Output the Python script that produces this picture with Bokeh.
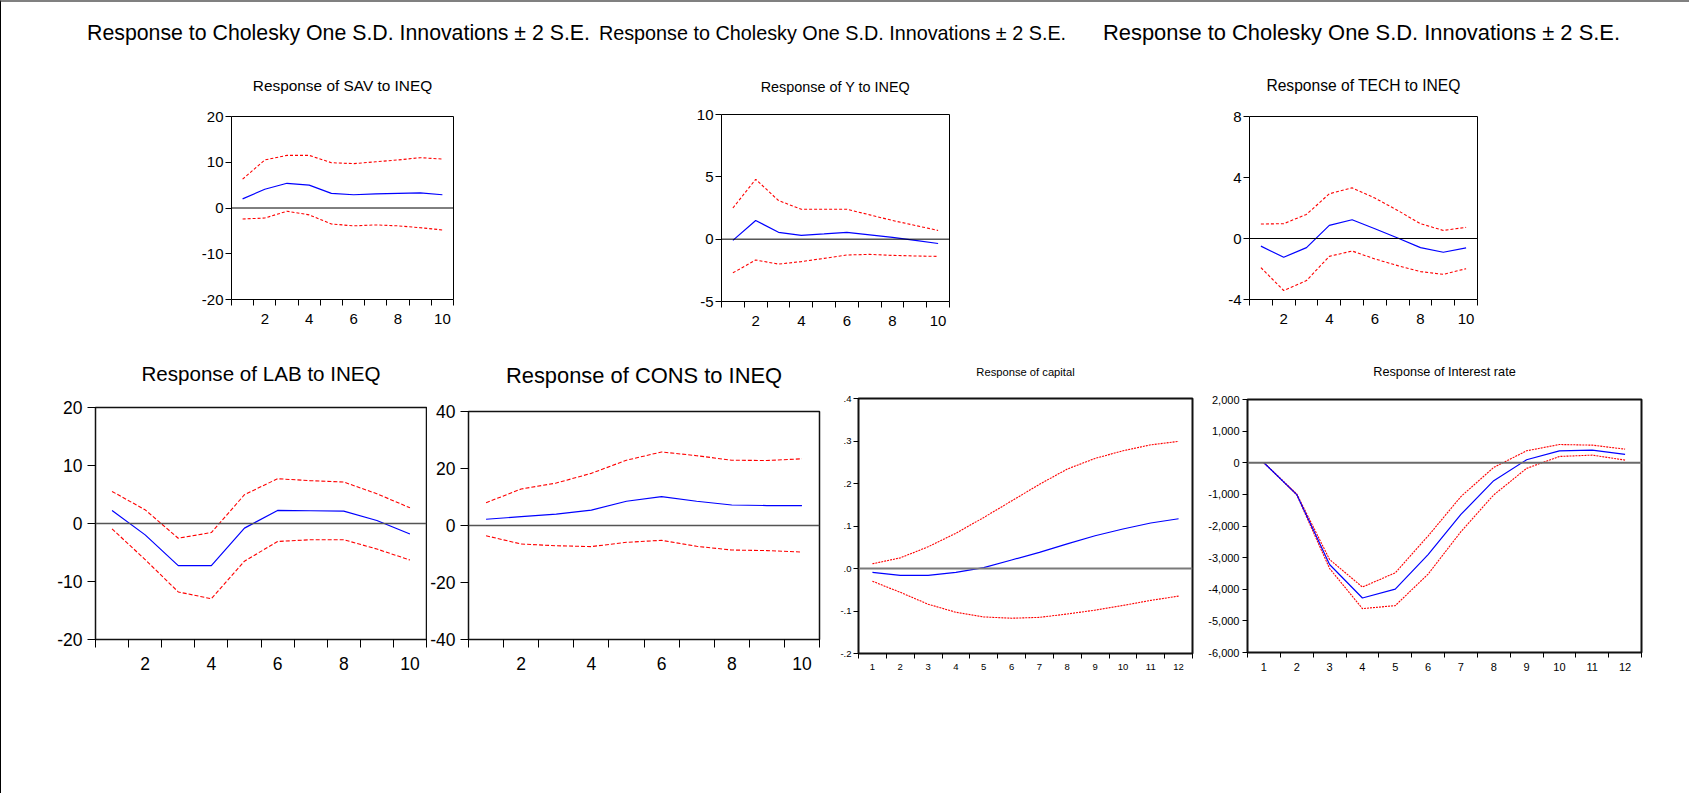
from bokeh.plotting import figure
from bokeh.layouts import column, row
from bokeh.models import FixedTicker, Span, Range1d, Label
from bokeh.embed import file_html
from bokeh.resources import INLINE

# ---------------- data ----------------
main_title = "Response to Cholesky One S.D. Innovations \u00b1 2 S.E."

periods10 = [1, 2, 3, 4, 5, 6, 7, 8, 9, 10]
periods12 = [1, 2, 3, 4, 5, 6, 7, 8, 9, 10, 11, 12]

sav_resp = [2.0, 4.1, 5.4, 5.0, 3.2, 2.9, 3.1, 3.2, 3.3, 2.9]
sav_upper = [6.3, 10.5, 11.5, 11.5, 9.9, 9.7, 10.1, 10.5, 11.0, 10.7]
sav_lower = [-2.4, -2.2, -0.7, -1.5, -3.5, -3.9, -3.7, -3.9, -4.3, -4.8]

y_resp = [-0.1, 1.5, 0.55, 0.3, 0.42, 0.55, 0.35, 0.15, -0.1, -0.35]
y_upper = [2.5, 4.8, 3.1, 2.4, 2.4, 2.4, 1.95, 1.5, 1.1, 0.7]
y_lower = [-2.7, -1.67, -2.0, -1.8, -1.54, -1.27, -1.22, -1.3, -1.35, -1.38]

tech_resp = [-0.5, -1.23, -0.6, 0.86, 1.23, 0.64, 0.03, -0.6, -0.9, -0.62]
tech_upper = [0.95, 0.97, 1.58, 2.93, 3.32, 2.65, 1.84, 0.97, 0.53, 0.73]
tech_lower = [-1.91, -3.41, -2.76, -1.17, -0.82, -1.34, -1.78, -2.17, -2.35, -1.98]

lab_resp = [2.25, -1.96, -7.26, -7.26, -0.8, 2.25, 2.2, 2.13, 0.52, -1.8]
lab_upper = [5.53, 2.36, -2.54, -1.56, 4.96, 7.72, 7.38, 7.15, 5.13, 2.71]
lab_lower = [-0.92, -6.22, -11.8, -12.97, -6.5, -3.1, -2.8, -2.8, -4.4, -6.3]

cons_resp = [2.2, 3.1, 4.0, 5.4, 8.5, 10.1, 8.5, 7.2, 7.0, 7.0]
cons_upper = [8.0, 12.8, 14.9, 18.3, 22.9, 25.8, 24.5, 22.9, 22.8, 23.4]
cons_lower = [-3.6, -6.5, -7.1, -7.4, -5.9, -5.2, -7.3, -8.6, -8.8, -9.3]

cap_resp = [-0.009, -0.016, -0.016, -0.009, 0.002, 0.020, 0.038, 0.058, 0.077, 0.093, 0.107, 0.117]
cap_upper = [0.011, 0.025, 0.051, 0.083, 0.120, 0.159, 0.198, 0.234, 0.259, 0.277, 0.291, 0.299]
cap_lower = [-0.030, -0.056, -0.084, -0.103, -0.114, -0.117, -0.115, -0.107, -0.098, -0.087, -0.075, -0.065]

int_resp = [0, -1006, -3218, -4277, -3994, -2904, -1635, -566, 94, 377, 398, 262]
int_upper = [0, -985, -3060, -3931, -3480, -2317, -1069, -147, 377, 577, 556, 430]
int_lower = [0, -1017, -3344, -4612, -4518, -3522, -2180, -1017, -178, 199, 241, 84]

# tick values and labels
sav_yticks = [-20, -10, 0, 10, 20]
sav_ylabels = ["-20", "-10", "0", "10", "20"]
y_yticks = [-5, 0, 5, 10]
y_ylabels = ["-5", "0", "5", "10"]
tech_yticks = [-4, 0, 4, 8]
tech_ylabels = ["-4", "0", "4", "8"]
lab_yticks = [-20, -10, 0, 10, 20]
lab_ylabels = ["-20", "-10", "0", "10", "20"]
cons_yticks = [-40, -20, 0, 20, 40]
cons_ylabels = ["-40", "-20", "0", "20", "40"]
cap_yticks = [-0.2, -0.1, 0.0, 0.1, 0.2, 0.3, 0.4]
cap_ylabels = ["-.2", "-.1", ".0", ".1", ".2", ".3", ".4"]
int_yticks = [-6000, -5000, -4000, -3000, -2000, -1000, 0, 1000, 2000]
int_ylabels = ["-6,000", "-5,000", "-4,000", "-3,000", "-2,000", "-1,000", "0", "1,000", "2,000"]
xlabels_even = [2, 4, 6, 8, 10]

SANS = "Liberation Sans"


def make_panel(title, periods, resp, upper, lower, yticks, ylabels, xticks, st):
    n = len(periods)
    p = figure(width=st["w"], height=st["h"],
               x_range=Range1d(0.5, n + 0.5), y_range=Range1d(yticks[0], yticks[-1]),
               output_backend="svg", toolbar_location=None, tools="",
               min_border_left=st["bl"], min_border_right=st["br"],
               min_border_top=st["bt"], min_border_bottom=st["bb"])
    p.grid.visible = False
    p.background_fill_color = "white"
    p.border_fill_color = "white"
    p.outline_line_color = st["frame_c"]
    p.outline_line_width = st["frame_w"]
    p.outline_line_alpha = 1.0

    p.title.text = title
    p.title.align = "center"
    p.title.text_font = SANS
    p.title.text_font_size = st["title_size"]
    p.title.text_font_style = "normal"
    p.title.text_color = "black"
    p.title.standoff = st["title_standoff"]

    p.add_layout(Span(location=0, dimension="width", line_color=st["zero_c"],
                      line_width=st["zero_w"]))
    p.line(periods, upper, line_color="#FF0000", line_dash=st["dash"], line_width=1.1)
    p.line(periods, lower, line_color="#FF0000", line_dash=st["dash"], line_width=1.1)
    p.line(periods, resp, line_color="#0000FF", line_width=1.2)

    xa = p.xaxis[0]
    xa.ticker = FixedTicker(ticks=xticks, minor_ticks=[k + 0.5 for k in range(n + 1)])
    xa.axis_line_color = None
    xa.major_tick_out = 0
    xa.major_tick_in = 0
    xa.minor_tick_out = st["tick"]
    xa.minor_tick_in = 0
    xa.minor_tick_line_color = "black"
    xa.major_label_standoff = st["xstand"]
    xa.major_label_text_font = SANS
    xa.major_label_text_font_size = st["xtick_size"]
    xa.major_label_text_color = "black"

    ya = p.yaxis[0]
    ya.ticker = FixedTicker(ticks=yticks)
    ya.axis_line_color = None
    ya.major_tick_out = st["tick"]
    ya.major_tick_in = 0
    ya.major_tick_line_color = "black"
    ya.minor_tick_out = 0
    ya.minor_tick_in = 0
    ya.major_label_standoff = st["ystand"]
    ya.major_label_text_font = SANS
    ya.major_label_text_font_size = st["ytick_size"]
    ya.major_label_text_color = "black"
    ya.major_label_overrides = dict(zip(yticks, ylabels))
    return p


top_common = dict(h=280, bt=66, bb=31, frame_c="black", frame_w=1, zero_c="black", zero_w=1,
                  dash="3 2", tick=6, xstand=8, ystand=2,
                  xtick_size="15px", ytick_size="15px", title_standoff=45)

p1 = make_panel("Response of SAV to INEQ", periods10, sav_resp, sav_upper, sav_lower,
                sav_yticks, sav_ylabels, xlabels_even,
                dict(top_common, w=599, bl=230, br=147, title_size="15.4px"))
p2 = make_panel("Response of Y to INEQ", periods10, y_resp, y_upper, y_lower,
                y_yticks, y_ylabels, xlabels_even,
                dict(top_common, w=500, bl=121, br=151, bt=64, bb=29, title_size="14.4px",
                     title_standoff=40))
p3 = make_panel("Response of TECH to INEQ", periods10, tech_resp, tech_upper, tech_lower,
                tech_yticks, tech_ylabels, xlabels_even,
                dict(top_common, w=589, bl=149, br=212, title_size="15.6px"))

bot_h = 463
p4 = make_panel("Response of LAB to INEQ", periods10, lab_resp, lab_upper, lab_lower,
                lab_yticks, lab_ylabels, xlabels_even,
                dict(w=426, h=bot_h, bl=94, br=1, bt=77, bb=154, frame_c="#111111", frame_w=1.5,
                     zero_c="#555555", zero_w=1.3, dash="4 2", tick=8, xstand=9, ystand=5,
                     xtick_size="17.5px", ytick_size="17.5px",
                     title_size="20.6px", title_standoff=46))
p5 = make_panel("Response of CONS to INEQ", periods10, cons_resp, cons_upper, cons_lower,
                cons_yticks, cons_ylabels, xlabels_even,
                dict(w=409, h=bot_h, bl=40, br=17, bt=81, bb=154, frame_c="#111111", frame_w=1.5,
                     zero_c="#555555", zero_w=1.3, dash="4 2", tick=8, xstand=9, ystand=5,
                     xtick_size="17.5px", ytick_size="17.5px",
                     title_size="21.9px", title_standoff=48))
p6 = make_panel("Response of capital", periods12, cap_resp, cap_upper, cap_lower,
                cap_yticks, cap_ylabels, periods12,
                dict(w=369, h=bot_h, bl=22, br=13, bt=68, bb=140, frame_c="#111111", frame_w=2,
                     zero_c="#7a7a7a", zero_w=2, dash="2 1", tick=5, xstand=5, ystand=2,
                     xtick_size="9.5px", ytick_size="9.5px",
                     title_size="11.2px", title_standoff=42))
p7 = make_panel("Response of Interest rate", periods12, int_resp, int_upper, int_lower,
                int_yticks, int_ylabels, periods12,
                dict(w=484, h=bot_h, bl=41, br=48, bt=69, bb=141, frame_c="#111111", frame_w=2,
                     zero_c="#6a6a6a", zero_w=2, dash="2 1", tick=5, xstand=5, ystand=3,
                     xtick_size="11px", ytick_size="11px",
                     title_size="12.7px", title_standoff=42))

# strip with the three group titles
strip = figure(width=1688, height=48, x_range=Range1d(0, 1688), y_range=Range1d(0, 48),
               output_backend="svg", toolbar_location=None, tools="",
               x_axis_location=None, y_axis_location=None, min_border=0)
strip.grid.visible = False
strip.outline_line_color = None
for cx, size in [(337, "21.3px"), (831, "19.8px"), (1360, "21.9px")]:
    strip.add_layout(Label(x=cx, y=18, text=main_title, text_align="center",
                           text_baseline="middle", text_font=SANS,
                           text_font_size=size, text_color="black"))

top_row = row(*[column(p) for p in (p1, p2, p3)])
bottom_row = row(*[column(p) for p in (p4, p5, p6, p7)])
layout = column(strip, top_row, bottom_row,
                styles={"border-left": "1px solid #000000", "border-top": "2px solid #808080"})

open("out.html", "w").write(file_html(layout, INLINE))
